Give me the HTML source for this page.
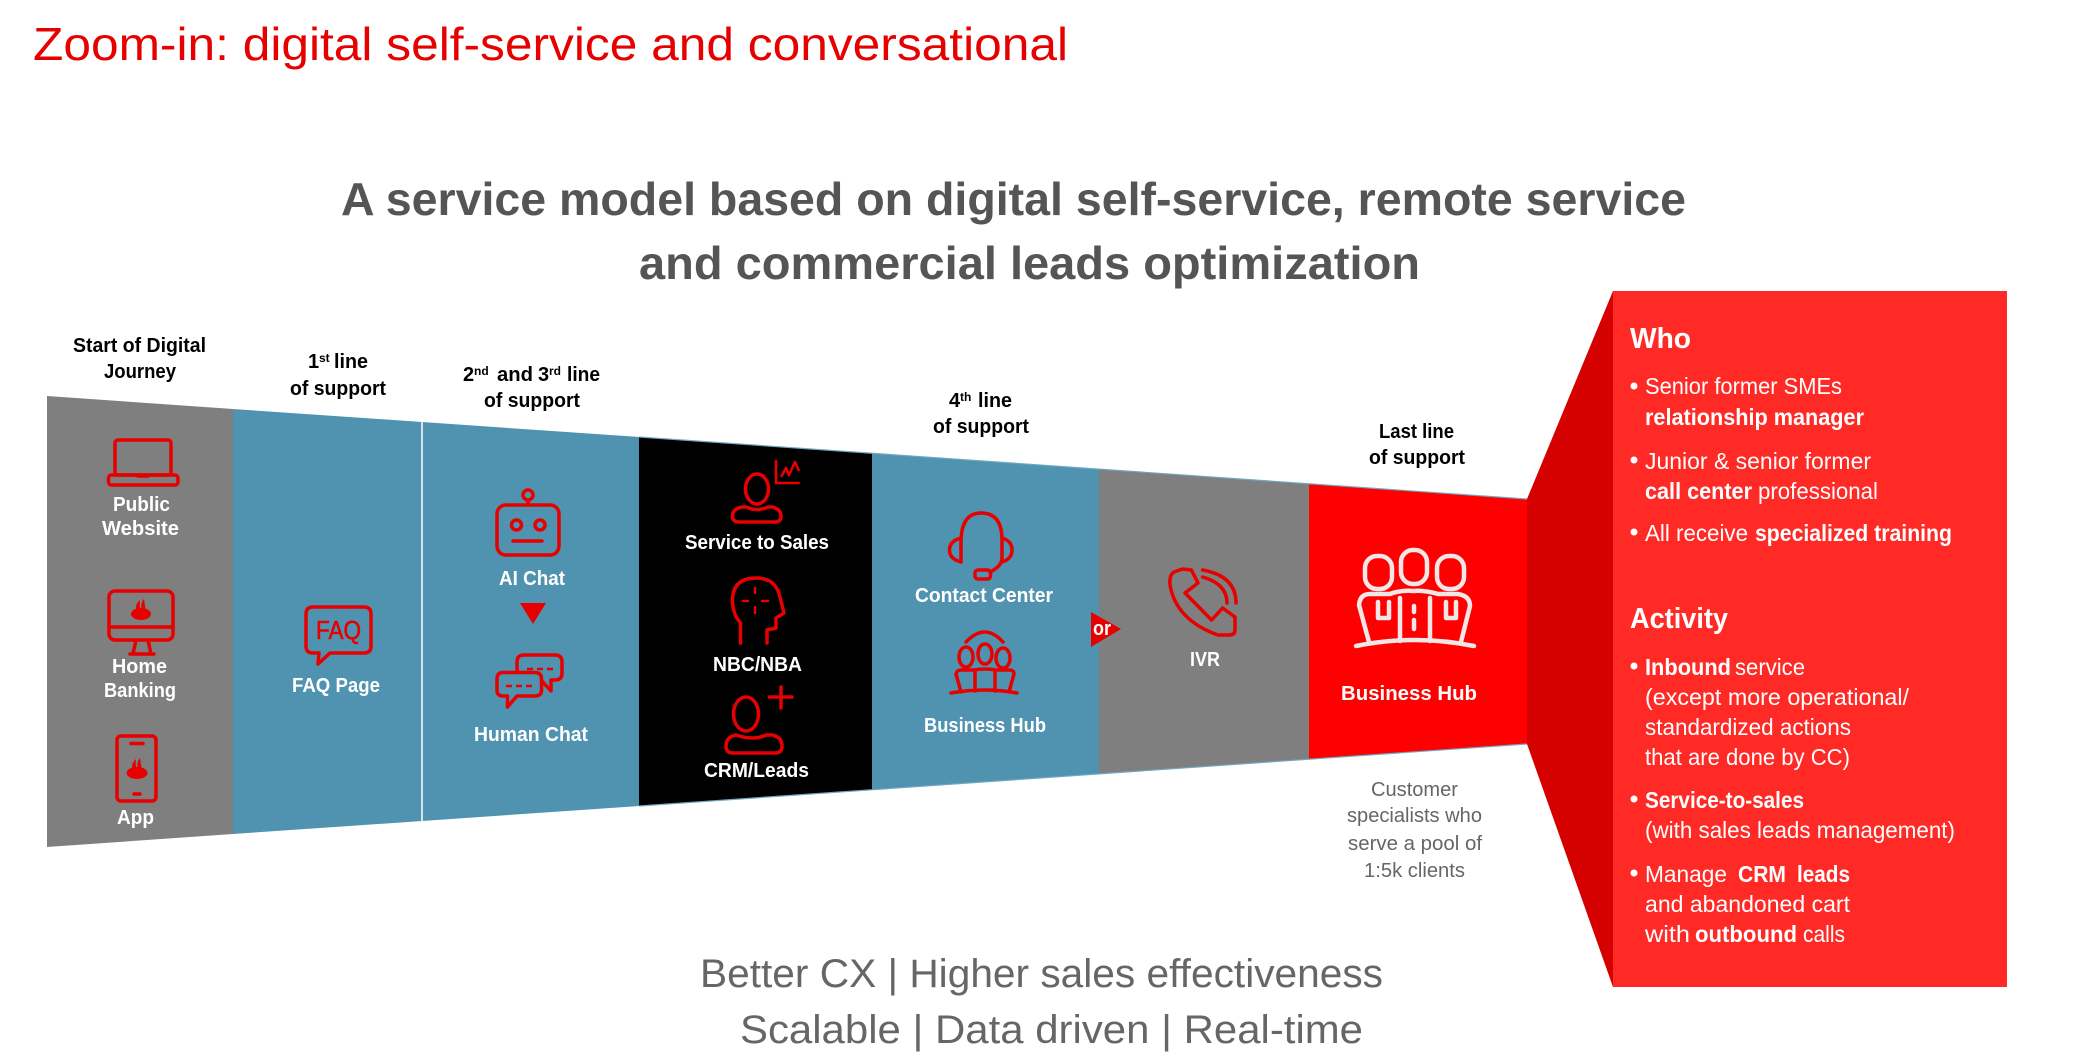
<!DOCTYPE html>
<html><head><meta charset="utf-8"><style>
html,body{margin:0;padding:0;background:#fff;width:2096px;height:1062px;overflow:hidden}
svg{display:block}
text{font-family:"Liberation Sans",sans-serif}
.h{font-weight:700;font-size:20px;fill:#000}
.l{font-weight:700;font-size:20px;fill:#fff}
.c{font-size:20px;fill:#666}
.p{font-size:23px;fill:#fff}
.pb{font-size:23px;fill:#fff;font-weight:700}
.t{font-size:29px;fill:#fff;font-weight:700}
.i{fill:none;stroke:#e60000;stroke-width:3.5;stroke-linejoin:round;stroke-linecap:round}
.w{fill:none;stroke:#f3e6e6;stroke-width:4.5;stroke-linejoin:round;stroke-linecap:round}
</style></head><body>
<svg width="2096" height="1062" viewBox="0 0 2096 1062" xmlns="http://www.w3.org/2000/svg">
<rect width="2096" height="1062" fill="#fff"/>
<text x="33" y="60" font-size="46" fill="#e60000" textLength="1035" lengthAdjust="spacingAndGlyphs">Zoom-in: digital self-service and conversational</text>
<text x="341" y="215" font-size="46" font-weight="700" fill="#555" textLength="1345" lengthAdjust="spacingAndGlyphs">A service model based on digital self-service, remote service</text>
<text x="639" y="279" font-size="46" font-weight="700" fill="#555" textLength="781" lengthAdjust="spacingAndGlyphs">and commercial leads optimization</text>

<!-- funnel -->
<polygon points="47,396 233,409 233,834 47,847" fill="#7f7f7f"/>
<polygon points="233,409 422,422 422,821 233,834" fill="#4f93b0"/>
<polygon points="422,422 639,437 639,806 422,821" fill="#4f93b0"/>
<polygon points="639,437 872,453 872,790 639,806" fill="#000"/>
<polygon points="872,453 1099,469 1099,774 872,790" fill="#4f93b0"/>
<polygon points="1099,469 1309,484 1309,759 1099,774" fill="#7f7f7f"/>
<polygon points="1309,484 1527,499 1527,744 1309,759" fill="#ff0000"/>
<line x1="422" y1="422" x2="422" y2="821" stroke="#fff" stroke-width="1.5"/>
<line x1="639" y1="437" x2="1527" y2="499" stroke="#6fa8c0" stroke-width="1.2"/>
<line x1="639" y1="806" x2="1527" y2="744" stroke="#6fa8c0" stroke-width="1.2"/>
<polygon points="1527,499 1613,291 1613,987 1527,744" fill="#d50000"/>
<rect x="1613" y="291" width="394" height="696" fill="#ff2a26"/>

<!-- headers -->
<text class="h" x="73" y="352" textLength="133" lengthAdjust="spacingAndGlyphs">Start of Digital</text>
<text class="h" x="104" y="378" textLength="72" lengthAdjust="spacingAndGlyphs">Journey</text>
<text class="h" x="308" y="368">1</text><text class="h" x="319" y="362" style="font-size:12px">st</text><text class="h" x="334" y="368" textLength="34" lengthAdjust="spacingAndGlyphs">line</text>
<text class="h" x="290" y="395" textLength="96" lengthAdjust="spacingAndGlyphs">of support</text>
<text class="h" x="463" y="381">2</text><text class="h" x="474" y="375" style="font-size:12px">nd</text><text class="h" x="497" y="381" textLength="36" lengthAdjust="spacingAndGlyphs">and</text><text class="h" x="538" y="381">3</text><text class="h" x="549" y="375" style="font-size:12px">rd</text><text class="h" x="567" y="381" textLength="33" lengthAdjust="spacingAndGlyphs">line</text>
<text class="h" x="484" y="407" textLength="96" lengthAdjust="spacingAndGlyphs">of support</text>
<text class="h" x="949" y="407">4</text><text class="h" x="960" y="401" style="font-size:12px">th</text><text class="h" x="978" y="407" textLength="34" lengthAdjust="spacingAndGlyphs">line</text>
<text class="h" x="933" y="433" textLength="96" lengthAdjust="spacingAndGlyphs">of support</text>
<text class="h" x="1379" y="438" textLength="75" lengthAdjust="spacingAndGlyphs">Last line</text>
<text class="h" x="1369" y="464" textLength="96" lengthAdjust="spacingAndGlyphs">of support</text>

<!-- funnel labels -->
<text class="l" x="113" y="511" textLength="57" lengthAdjust="spacingAndGlyphs">Public</text>
<text class="l" x="102" y="535" textLength="77" lengthAdjust="spacingAndGlyphs">Website</text>
<text class="l" x="112" y="673" textLength="55" lengthAdjust="spacingAndGlyphs">Home</text>
<text class="l" x="104" y="697" textLength="72" lengthAdjust="spacingAndGlyphs">Banking</text>
<text class="l" x="117" y="824" textLength="37" lengthAdjust="spacingAndGlyphs">App</text>
<text class="l" x="292" y="692" textLength="88" lengthAdjust="spacingAndGlyphs">FAQ Page</text>
<text class="l" x="499" y="585" textLength="66" lengthAdjust="spacingAndGlyphs">AI Chat</text>
<text class="l" x="474" y="741" textLength="114" lengthAdjust="spacingAndGlyphs">Human Chat</text>
<polygon points="520,603 546,603 533,624" fill="#e60000"/>
<text class="l" x="685" y="549" textLength="144" lengthAdjust="spacingAndGlyphs">Service to Sales</text>
<text class="l" x="713" y="671" textLength="89" lengthAdjust="spacingAndGlyphs">NBC/NBA</text>
<text class="l" x="704" y="777" textLength="105" lengthAdjust="spacingAndGlyphs">CRM/Leads</text>
<text class="l" x="915" y="602" textLength="138" lengthAdjust="spacingAndGlyphs">Contact Center</text>
<text class="l" x="924" y="732" textLength="122" lengthAdjust="spacingAndGlyphs">Business Hub</text>
<polygon points="1091,612 1121,629 1091,647" fill="#e60000"/>
<text class="l" x="1093" y="635" textLength="18" lengthAdjust="spacingAndGlyphs">or</text>
<text class="l" x="1190" y="666" textLength="30" lengthAdjust="spacingAndGlyphs">IVR</text>
<text class="l" x="1341" y="700" textLength="136" lengthAdjust="spacingAndGlyphs">Business Hub</text>

<text class="c" x="1371" y="796" textLength="87" lengthAdjust="spacingAndGlyphs">Customer</text>
<text class="c" x="1347" y="822" textLength="135" lengthAdjust="spacingAndGlyphs">specialists who</text>
<text class="c" x="1348" y="850" textLength="134" lengthAdjust="spacingAndGlyphs">serve a pool of</text>
<text class="c" x="1364" y="877" textLength="101" lengthAdjust="spacingAndGlyphs">1:5k clients</text>

<!-- panel text -->
<text class="t" x="1630" y="348" textLength="61" lengthAdjust="spacingAndGlyphs">Who</text>
<circle cx="1634" cy="386" r="3.5" fill="#fff"/>
<text class="p" x="1645" y="394" textLength="197" lengthAdjust="spacingAndGlyphs">Senior former SMEs</text>
<text class="pb" x="1645" y="425" textLength="219" lengthAdjust="spacingAndGlyphs">relationship manager</text>
<circle cx="1634" cy="460" r="3.5" fill="#fff"/>
<text class="p" x="1645" y="469" textLength="226" lengthAdjust="spacingAndGlyphs">Junior &amp; senior former</text>
<text class="pb" x="1645" y="499" textLength="107" lengthAdjust="spacingAndGlyphs">call center</text>
<text class="p" x="1758" y="499" textLength="120" lengthAdjust="spacingAndGlyphs">professional</text>
<circle cx="1634" cy="532" r="3.5" fill="#fff"/>
<text class="p" x="1645" y="541" textLength="103" lengthAdjust="spacingAndGlyphs">All receive</text>
<text class="pb" x="1755" y="541" textLength="197" lengthAdjust="spacingAndGlyphs">specialized training</text>

<text class="t" x="1630" y="628" textLength="98" lengthAdjust="spacingAndGlyphs">Activity</text>
<circle cx="1634" cy="666" r="3.5" fill="#fff"/>
<text class="pb" x="1645" y="675" textLength="86" lengthAdjust="spacingAndGlyphs">Inbound</text>
<text class="p" x="1735" y="675" textLength="70" lengthAdjust="spacingAndGlyphs">service</text>
<text class="p" x="1645" y="705" textLength="264" lengthAdjust="spacingAndGlyphs">(except more operational/</text>
<text class="p" x="1645" y="735" textLength="206" lengthAdjust="spacingAndGlyphs">standardized actions</text>
<text class="p" x="1645" y="765" textLength="205" lengthAdjust="spacingAndGlyphs">that are done by CC)</text>
<circle cx="1634" cy="799" r="3.5" fill="#fff"/>
<text class="pb" x="1645" y="808" textLength="159" lengthAdjust="spacingAndGlyphs">Service-to-sales</text>
<text class="p" x="1645" y="838" textLength="310" lengthAdjust="spacingAndGlyphs">(with sales leads management)</text>
<circle cx="1634" cy="873" r="3.5" fill="#fff"/>
<text class="p" x="1645" y="882" textLength="82" lengthAdjust="spacingAndGlyphs">Manage</text>
<text class="pb" x="1738" y="882" textLength="48" lengthAdjust="spacingAndGlyphs">CRM</text>
<text class="pb" x="1797" y="882" textLength="53" lengthAdjust="spacingAndGlyphs">leads</text>
<text class="p" x="1645" y="912" textLength="205" lengthAdjust="spacingAndGlyphs">and abandoned cart</text>
<text class="p" x="1645" y="942" textLength="45" lengthAdjust="spacingAndGlyphs">with</text>
<text class="pb" x="1695" y="942" textLength="102" lengthAdjust="spacingAndGlyphs">outbound</text>
<text class="p" x="1803" y="942" textLength="42" lengthAdjust="spacingAndGlyphs">calls</text>

<!-- footer -->
<text x="700" y="987" font-size="40" fill="#666" textLength="683" lengthAdjust="spacingAndGlyphs">Better CX | Higher sales effectiveness</text>
<text x="740" y="1043" font-size="40" fill="#666" textLength="623" lengthAdjust="spacingAndGlyphs">Scalable | Data driven | Real-time</text>

<!-- icons -->
<!-- laptop -->
<g class="i"><rect x="115" y="440" width="56" height="35" rx="3"/><rect x="108.5" y="475" width="69.5" height="10" rx="3"/><line x1="138" y1="476" x2="148" y2="476"/></g>
<!-- monitor -->
<g class="i"><rect x="109" y="591" width="64" height="49" rx="6"/><line x1="109" y1="627" x2="173" y2="627"/><path d="M136 640 L133 654 M148 640 L151 654 M130 654 H154"/></g>
<g fill="#e60000"><ellipse cx="141" cy="614" rx="10" ry="6"/><path d="M137 612 Q134 605 140 600 Q139 606 141 611Z M142 612 Q140 603 144 599 Q145 606 146 612Z"/></g>
<!-- phone -->
<g class="i"><rect x="117" y="736" width="39" height="65" rx="4"/><line x1="131" y1="743.5" x2="143" y2="743.5"/><line x1="134" y1="794" x2="140" y2="794"/></g>
<g fill="#e60000"><ellipse cx="137" cy="773" rx="10.5" ry="6"/><path d="M133 771 Q130 764 136 759 Q135 765 137 770Z M138 771 Q136 762 140 758 Q141 765 142 771Z"/></g>
<!-- FAQ -->
<path class="i" d="M313 607 H364 Q371 607 371 614 V646 Q371 653 364 653 H330 L318 664 L319 653 H313 Q306 653 306 646 V614 Q306 607 313 607Z"/>
<text x="316" y="639" font-size="26" fill="#e60000" stroke="#e60000" stroke-width="0.6" textLength="45" lengthAdjust="spacingAndGlyphs">FAQ</text>
<!-- robot -->
<g class="i"><rect x="497" y="505" width="62" height="50" rx="9"/><ellipse cx="528" cy="495" rx="5" ry="5"/><line x1="528" y1="500" x2="528" y2="505"/><circle cx="516.5" cy="525" r="5"/><circle cx="540" cy="525" r="5"/><line x1="513" y1="541" x2="542" y2="541"/></g>
<!-- human chat -->
<g class="i"><path d="M524 655 H555 Q562 655 562 662 V673 Q562 680 555 680 H551 V691 L541 680"/><path d="M524 675 Q517 675 517 668 V662 Q517 655 524 655"/><path d="M503 672.5 H535 Q541.5 672.5 541.5 679 V690 Q541.5 696 535 696 H517 L507.5 707 V696 H503 Q497 696 497 690 V679 Q497 672.5 503 672.5Z" fill="#4f93b0"/></g>
<g stroke="#e60000" stroke-width="2.5"><path d="M527 669 H554" stroke-dasharray="6 4"/><path d="M506 686 H533" stroke-dasharray="6 4"/></g>
<!-- service to sales -->
<g class="i"><ellipse cx="757" cy="489" rx="11.5" ry="15"/><path d="M746 507 Q757 512 768 507 H772 Q781 509 781 516 Q781 522 775 522 H739 Q732.5 522 732.5 516 Q732.5 509 742 507Z"/></g>
<path class="i" style="stroke-width:2.6" d="M776 461 V483 H798.6 M781.6 476 L786 468 L789 475 L795 462 L798.6 470"/>
<!-- NBC head -->
<path class="i" d="M740.5 643 V623 Q732.5 614 732.5 600 Q733 578 756 578 Q776 578 780 597 L784 613 L776 618 V628 L767 630 V643"/>
<g stroke="#e60000" stroke-width="2.5" stroke-linecap="round"><path d="M755 588 V593 M755 607 V613 M743 601 H748 M762 601 H768"/></g>
<!-- CRM -->
<g class="i"><ellipse cx="746" cy="714" rx="12.5" ry="17"/><path d="M736 735 Q754 741 766 735 H772 Q782 737 782 746 Q782 753 775 753 H733 Q726 753 726 746 Q726 737 736 735Z"/><path d="M769.5 697 H792 M781 687 V708"/></g>
<!-- headset -->
<g class="i"><path d="M961 562 V540 Q962 513 981 513 Q1002 513 1002 540 V558 Q1002 566 990 572"/><path d="M961 538 Q949.5 541 949.5 550 Q949.5 559 961 562"/><path d="M1002 538 Q1012 541 1012 550 Q1012 559 1002 562"/><rect x="975" y="570" width="15.5" height="9" rx="3"/></g>
<!-- team -->
<g class="i"><path d="M966 642 Q985 622 1003 642"/><ellipse cx="966" cy="657" rx="7" ry="10"/><ellipse cx="985" cy="654" rx="7" ry="10"/><ellipse cx="1003" cy="658" rx="7" ry="10"/><path d="M961 692 L956 674 Q957 670 961 670 H974 Q985 668 996 670 H1009 Q1014 670 1014 674 L1009 692 M975 670 V691 M995 670 V691"/><path d="M951 693 Q985 687 1017 693"/></g>
<!-- IVR phone -->
<g class="i"><path d="M1182.5 569 L1174 572 Q1169 575 1170 585 Q1176 620 1218 635 H1229 Q1235 635 1235 630 V617 L1222.6 608 L1211.6 620 L1185 593 L1198 583 L1191.4 570Z"/><path d="M1202.6 570 Q1236 576 1236 603"/><path d="M1202.6 577 Q1227 584 1227 603"/></g>
<!-- big hub -->
<g class="w"><rect x="1365" y="556" width="27" height="33" rx="12"/><rect x="1401" y="550" width="26" height="34" rx="12"/><rect x="1437" y="556" width="27" height="33" rx="12"/><path d="M1369 642 L1359 605 Q1360 594 1370 594 H1390 Q1400 590 1414 591 Q1424 590 1438 594 H1458 Q1470 596 1470 606 L1461 642"/><path d="M1400 598 V641 M1430 598 V641 M1378 602 V618 H1389 V602 M1446 602 V618 H1456 V602 M1414 606 V612 M1414 620 V629"/><path d="M1356 646 Q1414 634 1474 646"/></g>
</svg>
</body></html>
